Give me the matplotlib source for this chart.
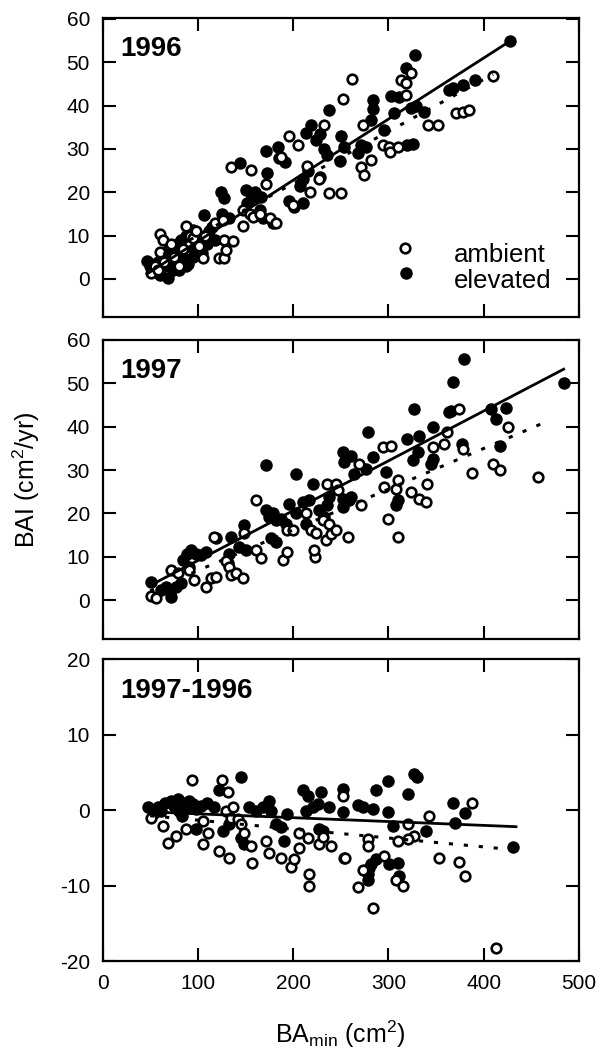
import numpy as np
import matplotlib
matplotlib.use("Agg")
import matplotlib.pyplot as plt

plt.rcParams['font.family'] = ['Liberation Sans', 'DejaVu Sans']
plt.rcParams['mathtext.default'] = 'regular'
plt.rcParams['lines.scale_dashes'] = False
plt.rcParams['axes.unicode_minus'] = False

# ---------------- data ----------------
# Panel 1996
p1_amb_x = [50.8, 55, 58, 60.2, 60.6, 63, 65, 72, 75, 80, 85, 87.5, 92, 95, 98, 101, 105, 108, 118, 122.5,
            126, 127.8, 128, 130, 137, 134.8, 155.8, 147, 147, 155, 158, 165, 176, 182, 172, 187, 196, 205,
            200, 215, 218, 227, 232.8, 238, 250, 252, 262, 273, 271.2, 274.7, 281.7, 294, 301, 302, 310,
            313.2, 318.4, 319, 323.7, 341.2, 351.7, 370.9, 377.9, 384.9, 409.4]
p1_amb_y = [1.3, 3.0, 2.0, 6.3, 10.4, 9.0, 4.0, 8.0, 5.0, 3.0, 7.0, 12.1, 10.0, 9.5, 11.0, 7.5, 4.8, 10.0, 13.0, 4.8,
            13.5, 4.8, 9.0, 6.7, 8.8, 25.9, 25.2, 12.1, 16.0, 15.0, 14.3, 15.0, 14.0, 13.0, 22.0, 28.2, 32.9, 31.0,
            17.0, 26.0, 20.0, 23.0, 35.5, 19.9, 19.9, 41.5, 46.1, 35.5, 25.9, 24.0, 27.5, 30.9, 30.5, 29.3, 30.5,
            45.9, 45.2, 42.5, 47.5, 35.5, 35.5, 38.2, 38.6, 39.0, 46.7]
p1_ele_x = [46.2, 50, 55, 58, 60, 63, 66, 68.3, 70, 72, 73.5, 75, 77, 78, 80, 82, 83, 85, 87.5, 88, 90, 92,
            94.5, 95, 96, 100, 104, 106.8, 110, 112, 115, 118, 125, 127.8, 124, 133, 144.2, 150.5, 152, 157,
            160, 165, 166, 168, 173, 178.5, 171.5, 183.8, 185, 192, 196, 201, 207, 210, 210, 213.5, 216,
            218.8, 224, 228, 228, 233, 236, 238, 250, 249.5, 253.7, 267.7, 271, 276.4, 281.7, 283.4, 284,
            295.6, 302.7, 306, 311.4, 318.4, 320, 323.7, 325.4, 328.2, 329, 337.6, 363.9, 367.4, 377.9,
            391.2, 428]
p1_ele_y = [4.2, 3.0, 2.5, 4.0, 1.0, 6.0, 3.0, 0.2, 7.0, 4.5, 2.1, 6.0, 5.0, 8.0, 2.0, 9.0, 7.0, 5.0, 2.9, 10.0,
            3.5, 11.0, 11.3, 5.0, 7.0, 9.0, 6.0, 14.8, 8.0, 11.0, 12.0, 9.0, 15.0, 18.6, 20.0, 14.0, 26.7, 20.5,
            17.5, 19.0, 20.0, 16.0, 19.0, 14.0, 24.4, 12.9, 29.4, 30.5, 28.0, 27.0, 18.0, 16.5, 21.5, 17.5,
            23.0, 33.6, 25.0, 35.5, 32.0, 33.5, 23.5, 30.0, 28.5, 39.0, 33.0, 27.1, 30.5, 29.0, 31.0, 30.5,
            36.7, 41.3, 39.2, 34.4, 42.1, 38.2, 41.9, 48.6, 30.9, 39.4, 31.1, 51.7, 39.9, 38.6, 43.5, 44.0,
            44.8, 45.8, 54.9]

# Panel 1997
p2_amb_x = [50.8, 56, 71.8, 78.8, 91, 96, 108.5, 113.8, 119, 117, 129.5, 133, 134.8, 140, 147, 148.8, 161, 161,
            166, 189, 194, 194, 199.5, 213.5, 218.8, 224, 222.8, 222.5, 231, 234.5, 236, 238, 240, 245, 245, 246.7,
            257.3, 269.4, 271.2, 293.9, 295.7, 299.2, 302.7, 308, 309.7, 309.7, 323.7, 332.4, 339.4, 340.1,
            346.4, 358.6, 361.1, 373.7, 377.9, 387.7, 409.4, 417.1, 425.1, 457.4]
p2_amb_y = [0.9, 0.5, 6.9, 6.2, 6.9, 4.6, 3.1, 5.0, 5.4, 14.6, 8.9, 7.7, 5.7, 6.2, 5.0, 15.4, 23.0, 11.5,
            9.6, 9.2, 11.1, 16.1, 16.1, 20.0, 16.1, 15.4, 10.0, 11.5, 18.4, 13.8, 26.8, 17.6, 15.3, 16.1, 26.8, 25.3,
            14.6, 31.3, 21.9, 35.3, 26.1, 18.8, 35.6, 25.7, 27.6, 14.6, 24.9, 23.4, 22.6, 26.7,
            35.4, 36.0, 38.7, 44.1, 34.9, 29.4, 31.4, 29.9, 40.0, 28.5]
p2_ele_x = [50.8, 61, 66.3, 71.5, 70, 77, 82, 84, 89, 92.7, 98, 103.3, 108.5, 91, 119, 134.8, 133, 131.3,
            148.8, 143.5, 150.5, 171.5, 171.5, 175, 178.5, 182, 187.3, 192.5, 176.8, 182, 203, 196, 203, 210,
            217, 213.5, 220.5, 227.5, 232.8, 238, 236, 252, 253.8, 252, 260.7, 264.2, 278.2, 283.4, 276.4,
            297.4, 251.9, 258.9, 260.7, 309.7, 308, 319.1, 325.4, 330.7, 332.4, 327.2, 346.4, 346.4, 344.7,
            363.9, 365.6, 368.1, 379.7, 377.2, 407.7, 423.4, 412.9, 417.1, 484.3]
p2_ele_y = [4.2, 2.3, 3.1, 0.8, 2.3, 3.1, 3.9, 9.2, 10.7, 11.5, 10.7, 10.4, 11.1, 7.7, 14.2, 14.6, 10.7, 8.5,
            17.3, 12.3, 11.5, 31.1, 20.7, 19.2, 20.0, 18.4, 18.8, 17.6, 14.2, 13.5, 29.1, 22.2, 20.0, 22.6,
            23.0, 17.6, 26.8, 20.7, 19.2, 23.8, 22.0, 34.1, 31.8, 21.5, 33.3, 29.0, 38.7, 33.0, 30.3,
            29.5, 23.4, 23.0, 23.8, 23.0, 21.9, 37.2, 32.2, 34.1, 37.9, 44.1, 39.9, 32.5, 31.4,
            43.3, 43.7, 50.3, 55.6, 35.9, 44.1, 44.2, 41.8, 35.6, 50.0]

# Panel 1997-1996
p3_amb_x = [50.8, 63, 68.3, 77, 87.5, 93.8, 105, 105, 110.3, 121.8, 125.3, 131.3, 133, 129.5, 136.5, 134.8,
            141.8, 145.3, 148.8, 155.8, 156.5, 171.5, 175, 187.3, 197.8, 201, 206.5, 206.5, 215.3, 217, 217,
            227.5, 231, 239.8, 253.8, 251.9, 320.2, 327.2, 320.2, 309.7, 342.9, 387.7, 353.4, 374.4, 380.7,
            254.7, 278.2, 278.2, 273, 267.7, 283.4, 295.6, 307.9, 314.9, 412.9]
p3_amb_y = [-1.0, -2.1, -4.3, -3.4, -2.5, 4.0, -1.4, -4.5, -3.0, -5.4, 4.0, 2.35, -6.3, -0.1, 0.35, -1.0,
            -1.2, -1.9, -3.0, -4.8, -7.0, -4.1, -5.7, -6.3, -7.6, -6.5, -5.0, -3.0, -3.7, -8.5, -10.1,
            -4.5, -3.6, -4.8, -6.3, 1.9, -1.9, -3.4, -3.9, -4.1, -0.85, 1.0, -6.3, -6.9, -8.8,
            -6.4, -3.9, -4.8, -7.9, -10.2, -13.0, -6.1, -9.2, -10.0, -18.3]
p3_ele_x = [47.3, 54, 58, 61.3, 66, 71.8, 75, 78.8, 80.5, 83, 84, 87.5, 91, 94.5, 98, 98, 103, 110, 117.3,
            122.5, 126, 133, 145.3, 145.3, 148.8, 154, 161, 168, 175, 176.8, 182, 187.3, 190.8, 194, 210,
            213.5, 215.3, 220.5, 225.8, 227.5, 229, 231, 238, 252, 252, 267.7, 273, 283.4, 287, 299.2, 299.2,
            320.2, 327, 330.5, 304.4, 339.4, 367.4, 380.7, 370.2, 281.7, 287, 278.2, 278.2, 280, 301, 309.7,
            311.4, 430.4]
p3_ele_y = [0.35, -0.4, 0.35, -0.1, 0.9, 1.2, 0.6, 1.5, -0.1, -0.8, 1.0, 0.35, 1.2, 0.8, 0.1, -2.5, 0.6, 0.9, 0.35,
            2.6, -2.8, -1.9, 4.35, -3.7, -4.5, 0.35, -0.1, 0.35, 1.2, -0.1, -1.9, -2.3, -4.1, -0.5, 2.6,
            -0.1, 1.9, 0.35, 0.8, -2.5, 2.35, -2.8, 0.35, -0.3, 2.8, 0.7, 0.35, 0.1, 2.6, 3.8, -0.3,
            2.1, 4.8, 4.4, -2.1, -2.8, 0.9, -0.45, -1.7, -7.2, -6.5, -8.5, -9.2, -7.7, -7.2, -7.0,
            -8.8, -4.9]

# regression lines: (intercept, slope, x_start, x_end)
p1_ele_fit = (-5.45, 0.141, 47, 428)
p1_amb_fit = (-2.0, 0.12, 50, 410)
p2_ele_fit = (-2.4, 0.115, 50, 484)
p2_amb_fit = (-2.6, 0.0939, 50, 460)
p3_ele_fit = (0.01, -0.0051, 47, 434)
p3_amb_fit = (-0.16, -0.0118, 50, 426)

panel_titles = ['1996', '1997', '1997-1996']
panel_ylims = [(-8.8, 60.2), (-9.0, 60.0), (-20, 20)]
panel_yticks = [np.arange(0, 61, 10), np.arange(0, 61, 10), np.arange(-20, 21, 10)]
xticks = np.arange(0, 501, 100)

# ---------------- figure ----------------
fig = plt.figure(figsize=(6.03, 10.51), dpi=100)
left, width = 0.170, 0.790
positions = [(left, 0.6984, width, 0.2845),
             (left, 0.3920, width, 0.2845),
             (left, 0.0856, width, 0.2873)]

panels = [
    (p1_amb_x, p1_amb_y, p1_ele_x, p1_ele_y, p1_amb_fit, p1_ele_fit),
    (p2_amb_x, p2_amb_y, p2_ele_x, p2_ele_y, p2_amb_fit, p2_ele_fit),
    (p3_amb_x, p3_amb_y, p3_ele_x, p3_ele_y, p3_amb_fit, p3_ele_fit),
]

FILLED = dict(marker='o', ms=9.0, mfc='black', mec='black', mew=0.0, ls='none')
OPEN = dict(marker='o', ms=6.9, mfc='white', mec='black', mew=1.9, ls='none')

axes = []
for i, (pos, data) in enumerate(zip(positions, panels)):
    ax = fig.add_axes(pos)
    axes.append(ax)
    ax_x, ax_y, el_x, el_y, amb_fit, ele_fit = data
    ax.plot(el_x, el_y, zorder=2, **FILLED)
    ax.plot(ax_x, ax_y, zorder=3, **OPEN)
    # fits
    b0, b1, xs, xe = ele_fit
    xx = np.array([xs, xe])
    ax.plot(xx, np.polyval([b1, b0], xx), '-', color='black', lw=2.0, zorder=4)
    b0, b1, xs, xe = amb_fit
    xx = np.array([xs, xe])
    ln, = ax.plot(xx, np.polyval([b1, b0], xx), color='black', lw=2.2, zorder=4)
    ln.set_dashes([3.0, 7.8])
    ax.set_xlim(0, 500)
    ax.set_ylim(*panel_ylims[i])
    ax.set_xticks(xticks)
    ax.set_yticks(panel_yticks[i])
    ax.tick_params(direction='in', length=9.5, width=1.5, top=True, right=True,
                   labelsize=15, pad=9)
    if i < 2:
        ax.set_xticklabels([])
    for sp in ax.spines.values():
        sp.set_linewidth(1.6)
    ax.text(0.038, 0.872, panel_titles[i], transform=ax.transAxes, fontsize=20,
            fontweight='bold', va='baseline', ha='left')

# legend (panel 1)
ax0 = axes[0]
ax0.plot([0.635], [0.230], transform=ax0.transAxes, clip_on=False, **OPEN)
ax0.plot([0.637], [0.146], transform=ax0.transAxes, clip_on=False, **FILLED)
ax0.text(0.738, 0.185, 'ambient', transform=ax0.transAxes, fontsize=18.5, va='baseline')
ax0.text(0.738, 0.096, 'elevated', transform=ax0.transAxes, fontsize=18.5, va='baseline')

fig.text(0.043, 0.543, 'BAI (cm$^2$/yr)', rotation=90, ha='center', va='center', fontsize=18)
fig.text(left + width / 2, 0.0074, 'BA$_{min}$ (cm$^2$)', ha='center', va='baseline', fontsize=18)

fig.savefig('out.png', dpi=100, facecolor='white')
